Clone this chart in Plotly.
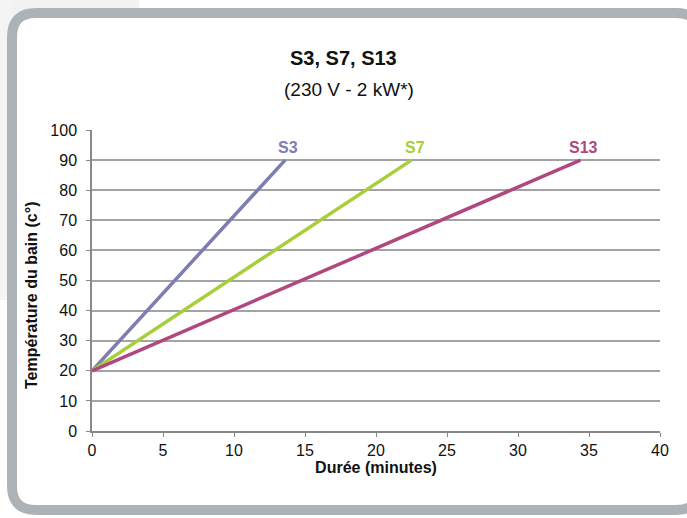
import plotly.graph_objects as go

series_names = ["S3", "S7", "S13"]
series_x = [[0, 13.6], [0, 22.5], [0, 34.4]]
series_y = [[20, 90], [20, 90], [20, 90]]
colors = ["#7b7db3", "#a6cf3a", "#b0487f"]

x_ticks = [0, 5, 10, 15, 20, 25, 30, 35, 40]
y_ticks = [0, 10, 20, 30, 40, 50, 60, 70, 80, 90, 100]

W, H = 687, 518
L, R, T, B = 92, 27, 130, 87
pw, ph = W - L - R, H - T - B

def px(x):
    return (x - L) / pw

def py(y):
    return (H - B - y) / ph

FONT = "Liberation Sans Narrow, Arial Narrow, Liberation Sans, Arial"

fig = go.Figure()
for name, xs, ys, c in zip(series_names, series_x, series_y, colors):
    fig.add_trace(go.Scatter(x=xs, y=ys, mode="lines", name=name,
                             line=dict(color=c, width=3.5), showlegend=False,
                             hoverinfo="skip"))
    fig.add_annotation(x=xs[-1], y=ys[-1], text="<b>%s</b>" % name, showarrow=False,
                       yshift=13, xshift=3, font=dict(color=c, size=16, family="Liberation Sans, Arial"))

# frame
r = 24
x0, y0, x1, y1 = 12, 13, 700, 510
path = (f"M {px(x0)},{py(y0 + r)} Q {px(x0)},{py(y0)} {px(x0 + r)},{py(y0)} "
        f"L {px(x1 - r)},{py(y0)} Q {px(x1)},{py(y0)} {px(x1)},{py(y0 + r)} "
        f"L {px(x1)},{py(y1 - r)} Q {px(x1)},{py(y1)} {px(x1 - r)},{py(y1)} "
        f"L {px(x0 + r)},{py(y1)} Q {px(x0)},{py(y1)} {px(x0)},{py(y1 - r)} Z")
shapes = [
    dict(type="rect", xref="paper", yref="paper", x0=px(0), x1=px(139), y0=py(0), y1=py(40),
         fillcolor="#f2f2f2", line=dict(width=0), layer="below"),
    dict(type="rect", xref="paper", yref="paper", x0=px(0), x1=px(12), y0=py(0), y1=py(300),
         fillcolor="#f4f4f4", line=dict(width=0), layer="below"),
    dict(type="path", xref="paper", yref="paper", path=path, fillcolor="white",
         line=dict(color="#adb2b6", width=10), layer="below"),
]

fig.add_annotation(xref="paper", yref="paper", x=px(343), y=py(58), yanchor="middle",
                   text="<b>S3, S7, S13</b>", showarrow=False,
                   font=dict(size=20, family=FONT, color="#111"))
fig.add_annotation(xref="paper", yref="paper", x=px(349), y=py(89), yanchor="middle",
                   text="(230 V - 2 kW*)", showarrow=False,
                   font=dict(size=19, family=FONT, color="#111"))
fig.add_annotation(xref="paper", yref="paper", x=px(31), y=py(296), xanchor="center", yanchor="middle",
                   text="<b>Température du bain (c°)</b>", textangle=-90, showarrow=False,
                   font=dict(size=16, family=FONT, color="#111"))

fig.update_layout(
    width=W, height=H, margin=dict(l=L, r=R, t=T, b=B),
    paper_bgcolor="white", plot_bgcolor="rgba(0,0,0,0)",
    shapes=shapes,
    font=dict(family=FONT, size=16, color="#111"),
    xaxis=dict(range=[0, 40], tickvals=x_ticks, ticks="outside", ticklen=4, tickcolor="#888",
               showline=True, linecolor="#888", linewidth=1.5, showgrid=False, zeroline=False,
               title=dict(text="<b>Durée (minutes)</b>", standoff=0, font=dict(size=16, family=FONT)),
               tickfont=dict(size=16)),
    yaxis=dict(range=[0, 100], tickvals=y_ticks, ticks="outside", ticklen=4, tickcolor="#888",
               showline=True, linecolor="#888", linewidth=1.5, showgrid=True, gridcolor="#a3a3a3",
               gridwidth=1.5, zeroline=False, tickfont=dict(size=16), ticklabelstandoff=6),
)
fig.write_html("out.html", config={"displayModeBar": False},
               post_script="document.body.style.margin='0';document.body.style.overflow='hidden';")
